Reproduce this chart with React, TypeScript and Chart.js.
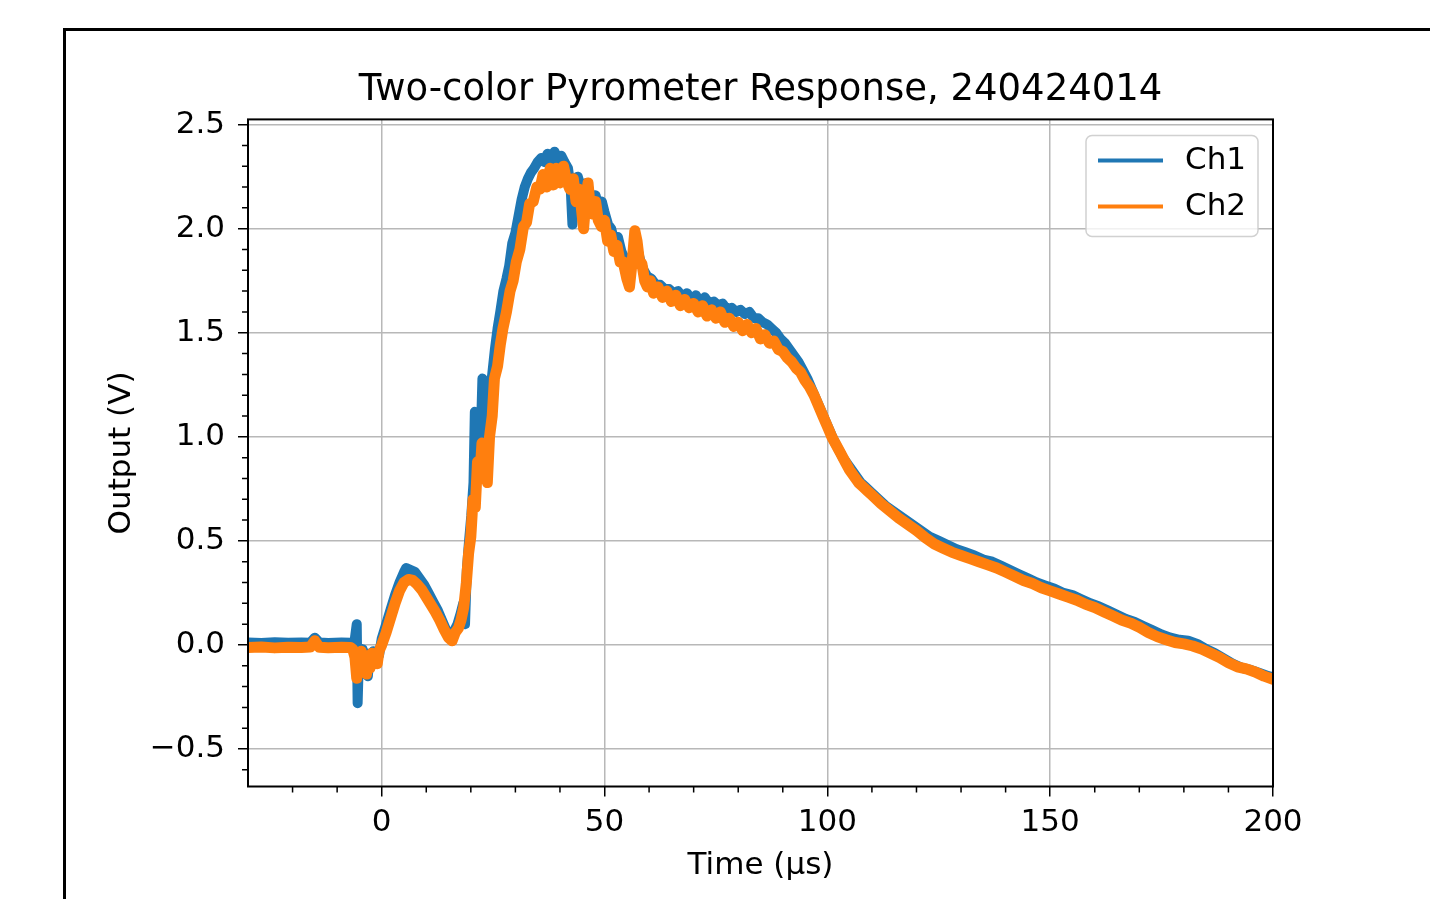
import React, { useEffect, useRef } from "react";
import { Chart, registerables } from "chart.js";

Chart.register(...registerables);

const TITLE = "Two-color Pyrometer Response, 240424014";
const X_LABEL = "Time (μs)";
const Y_LABEL = "Output (V)";
const SERIES_NAMES = ["Ch1", "Ch2"];
const SERIES_COLORS = ["#1f77b4", "#ff7f0e"];

const X_MIN = -30;
const X_MAX = 200;
const Y_MIN = -0.68;
const Y_MAX = 2.525;

const X_MAJOR = [0, 50, 100, 150, 200];
const X_MINOR = [-20, -10, 10, 20, 30, 40, 60, 70, 80, 90, 110, 120, 130, 140, 160, 170, 180, 190];
const Y_MAJOR = [-0.5, 0, 0.5, 1, 1.5, 2, 2.5];
const Y_MINOR = [-0.6, -0.4, -0.3, -0.2, -0.1, 0.1, 0.2, 0.3, 0.4, 0.6, 0.7, 0.8, 0.9, 1.1, 1.2, 1.3, 1.4, 1.6, 1.7, 1.8, 1.9, 2.1, 2.2, 2.3, 2.4];

// Ch1 (blue): [time µs, volts]
const CH1: [number, number][] = [
  [-30, 0.012], [-27, 0.01], [-24, 0.013], [-21, 0.011], [-18, 0.012], [-16, 0.011], [-15, 0.035], [-14, 0.012],
  [-12, 0.01], [-9, 0.012], [-7, 0.011], [-6.2, 0.0], [-5.6, 0.1], [-5.4, -0.28], [-5.1, -0.05], [-4.7, -0.14],
  [-4.3, -0.02], [-3.9, -0.1], [-3.5, -0.04], [-3.1, -0.15], [-2.7, -0.05], [-2.3, -0.09], [-1.9, -0.03], [-1.5, -0.07],
  [-1.1, -0.03], [-0.6, -0.05], [0, 0.03], [1, 0.1], [2, 0.17], [3, 0.24], [4, 0.3], [5, 0.35], [5.5, 0.37],
  [6.5, 0.36], [7.5, 0.35], [8.5, 0.32], [9.5, 0.29], [10.5, 0.25], [11.5, 0.21], [12.5, 0.17], [13.5, 0.12],
  [14.5, 0.07], [15.5, 0.03], [16.3, 0.07], [17, 0.1], [17.7, 0.15], [18.3, 0.2], [18.7, 0.1], [19.1, 0.36],
  [19.6, 0.5], [20.1, 0.62], [20.6, 0.78], [20.9, 1.12], [21.2, 0.8], [21.7, 0.95], [22.1, 0.9], [22.6, 1.28],
  [23, 1.0], [23.6, 1.12], [24.2, 1.2], [24.8, 1.3], [25.4, 1.42], [26, 1.52], [26.6, 1.6], [27.3, 1.7],
  [28, 1.76], [28.6, 1.82], [29.3, 1.93], [30, 1.98], [30.7, 2.06], [31.4, 2.14], [32.1, 2.2], [32.8, 2.24],
  [33.5, 2.27], [34.2, 2.29], [35, 2.32], [35.8, 2.34], [36.5, 2.32], [37.2, 2.36], [38, 2.33], [38.8, 2.37],
  [39.5, 2.33], [40.3, 2.35], [41, 2.32], [41.8, 2.29], [42.4, 2.2], [42.8, 2.02], [43.3, 2.24], [44, 2.25],
  [44.7, 2.2], [45.4, 2.14], [46, 2.22], [46.6, 2.18], [47.3, 2.12], [48, 2.16], [48.7, 2.1], [49.4, 2.13],
  [50, 2.08], [50.8, 2.02], [51.5, 2.0], [52.2, 1.94], [53, 1.96], [53.8, 1.89], [54.6, 1.85], [55.4, 1.8],
  [56.1, 1.84], [56.8, 1.95], [57.4, 1.9], [58.1, 1.84], [58.8, 1.8], [59.6, 1.77], [60.5, 1.76], [61.5, 1.73],
  [62.5, 1.73], [63.5, 1.71], [64.5, 1.71], [65.5, 1.69], [66.5, 1.7], [67.5, 1.67], [68.5, 1.69], [69.5, 1.66],
  [70.5, 1.68], [71.5, 1.65], [72.5, 1.67], [73.5, 1.64], [74.5, 1.65], [75.5, 1.63], [76.5, 1.64], [77.5, 1.61],
  [78.5, 1.62], [79.5, 1.6], [80.5, 1.61], [81.5, 1.59], [82.5, 1.6], [83.5, 1.57], [84.5, 1.57], [85.5, 1.55],
  [86.5, 1.54], [87.5, 1.52], [88.5, 1.5], [89.5, 1.47], [90.5, 1.45], [91.5, 1.42], [92.5, 1.39], [93.5, 1.36],
  [94.5, 1.32], [95.5, 1.28], [96.5, 1.23], [97.5, 1.18], [98.5, 1.13], [99.5, 1.08], [100.5, 1.03], [101.5, 0.98],
  [102.5, 0.94], [103.5, 0.9], [104.5, 0.87], [105.5, 0.84], [106.5, 0.81], [107.5, 0.78], [108.5, 0.76],
  [109.5, 0.74], [111, 0.71], [113, 0.67], [115, 0.64], [117, 0.61], [119, 0.58], [121, 0.55], [123, 0.52],
  [125, 0.5], [127, 0.48], [129, 0.46], [131, 0.445], [133, 0.43], [135, 0.41], [137, 0.4], [139, 0.38],
  [141, 0.36], [143, 0.34], [145, 0.32], [147, 0.3], [149, 0.285], [151, 0.27], [153, 0.25], [155, 0.24],
  [157, 0.22], [159, 0.2], [161, 0.185], [163, 0.165], [165, 0.145], [167, 0.125], [169, 0.11], [171, 0.09],
  [173, 0.07], [175, 0.05], [177, 0.035], [179, 0.025], [181, 0.02], [183, 0.005], [185, -0.02], [187, -0.04],
  [189, -0.065], [191, -0.09], [193, -0.11], [195, -0.12], [197, -0.135], [199, -0.15], [200, -0.155],
];

// Ch2 (orange): [time µs, volts]
const CH2: [number, number][] = [
  [-30, -0.012], [-27, -0.01], [-24, -0.014], [-21, -0.011], [-18, -0.012], [-16, -0.01], [-15, 0.02], [-14, -0.011],
  [-12, -0.013], [-9, -0.011], [-7, -0.012], [-6.5, -0.02], [-6, -0.06], [-5.6, -0.16], [-5.3, -0.04], [-5, -0.12],
  [-4.6, -0.03], [-4.2, -0.09], [-3.8, -0.05], [-3.4, -0.14], [-3, -0.06], [-2.6, -0.11], [-2.2, -0.04], [-1.8, -0.08],
  [-1.4, -0.05], [-1, -0.09], [-0.6, -0.03], [0, 0.0], [1, 0.06], [2, 0.13], [3, 0.2], [4, 0.26], [5, 0.3],
  [6, 0.315], [7, 0.31], [8, 0.29], [9, 0.265], [10, 0.23], [11, 0.195], [12, 0.16], [13, 0.12], [14, 0.075],
  [15, 0.035], [15.8, 0.02], [16.5, 0.06], [17.2, 0.08], [17.8, 0.12], [18.4, 0.18], [19, 0.3], [19.5, 0.44],
  [20, 0.52], [20.5, 0.7], [21, 0.66], [21.5, 0.88], [22, 0.8], [22.5, 0.97], [23, 0.86], [23.7, 0.78],
  [24.2, 1.0], [24.8, 1.1], [25.3, 1.28], [26, 1.34], [26.6, 1.44], [27.2, 1.52], [28, 1.6], [28.8, 1.7],
  [29.5, 1.75], [30.2, 1.84], [31, 1.9], [31.8, 2.01], [32.5, 2.03], [33.2, 2.12], [34, 2.13], [34.8, 2.2],
  [35.5, 2.19], [36.2, 2.26], [37, 2.2], [37.8, 2.29], [38.5, 2.21], [39.2, 2.29], [40, 2.22], [40.8, 2.3],
  [41.5, 2.23], [42.2, 2.19], [43, 2.24], [43.6, 2.13], [44.2, 2.19], [44.8, 2.1], [45.3, 2.0], [45.8, 2.13],
  [46.3, 2.22], [46.8, 2.1], [47.4, 2.07], [48, 2.13], [48.6, 2.04], [49.3, 2.01], [50, 2.04], [50.7, 1.94],
  [51.4, 1.97], [52.1, 1.89], [52.8, 1.92], [53.5, 1.84], [54.2, 1.84], [55, 1.76], [55.6, 1.72], [56.2, 1.84],
  [56.8, 1.99], [57.3, 1.94], [57.8, 1.85], [58.4, 1.83], [59, 1.75], [59.6, 1.72], [60.3, 1.75], [61, 1.69],
  [62, 1.72], [63, 1.67], [64, 1.7], [65, 1.65], [66, 1.68], [67, 1.63], [68, 1.66], [69, 1.62], [70, 1.64],
  [71, 1.6], [72, 1.63], [73, 1.58], [74, 1.61], [75, 1.57], [76, 1.6], [77, 1.55], [78, 1.57], [79, 1.53],
  [80, 1.55], [81, 1.51], [82, 1.54], [83, 1.5], [84, 1.52], [85, 1.47], [86, 1.49], [87, 1.45], [88, 1.46],
  [89, 1.42], [90, 1.41], [91, 1.38], [92, 1.36], [93, 1.33], [94, 1.31], [95, 1.27], [96, 1.24], [97, 1.2],
  [98, 1.15], [99, 1.1], [100, 1.05], [101, 1.0], [102, 0.96], [103, 0.92], [104, 0.88], [105, 0.84], [106, 0.81],
  [107, 0.78], [108, 0.76], [109, 0.74], [110, 0.72], [112, 0.68], [114, 0.645], [116, 0.61], [118, 0.58],
  [120, 0.55], [122, 0.515], [124, 0.485], [126, 0.465], [128, 0.445], [130, 0.43], [132, 0.415], [134, 0.4],
  [136, 0.385], [138, 0.37], [140, 0.35], [142, 0.33], [144, 0.31], [146, 0.295], [148, 0.275], [150, 0.26],
  [152, 0.245], [154, 0.23], [156, 0.215], [158, 0.195], [160, 0.18], [162, 0.16], [164, 0.14], [166, 0.12],
  [168, 0.105], [170, 0.085], [172, 0.06], [174, 0.04], [176, 0.025], [178, 0.012], [180, 0.005], [182, -0.005],
  [184, -0.02], [186, -0.04], [188, -0.06], [190, -0.085], [192, -0.105], [194, -0.115], [196, -0.13],
  [198, -0.15], [200, -0.165],
];

const FONT = "'DejaVu Sans', sans-serif";

const decorPlugin = {
  id: "mplDecor",
  afterDatasetsDraw(chart: any) {
    const { ctx, chartArea, scales } = chart;
    ctx.save();
    ctx.strokeStyle = "#000";
    ctx.lineWidth = 1.5;
    ctx.beginPath();
    X_MINOR.forEach((v) => {
      const px = scales.x.getPixelForValue(v);
      ctx.moveTo(px, chartArea.bottom);
      ctx.lineTo(px, chartArea.bottom + 6);
    });
    Y_MINOR.forEach((v) => {
      const py = scales.y.getPixelForValue(v);
      ctx.moveTo(chartArea.left, py);
      ctx.lineTo(chartArea.left - 6, py);
    });
    ctx.stroke();
    ctx.lineWidth = 2;
    ctx.strokeRect(chartArea.left, chartArea.top, chartArea.right - chartArea.left, chartArea.bottom - chartArea.top);
    ctx.restore();
  },
  afterDraw(chart: any) {
    const { ctx, chartArea } = chart;
    const boxW = 172;
    const boxH = 101;
    const x0 = chartArea.right - 15 - boxW;
    const y0 = chartArea.top + 16;
    ctx.save();
    ctx.beginPath();
    (ctx as any).roundRect(x0, y0, boxW, boxH, 6);
    ctx.fillStyle = "rgba(255,255,255,0.8)";
    ctx.fill();
    ctx.strokeStyle = "rgba(204,204,204,0.9)";
    ctx.lineWidth = 1.5;
    ctx.stroke();
    chart.data.datasets.forEach((ds: any, i: number) => {
      const cy = y0 + 25 + i * 46;
      ctx.strokeStyle = ds.borderColor;
      ctx.lineWidth = 4;
      ctx.beginPath();
      ctx.moveTo(x0 + 12, cy);
      ctx.lineTo(x0 + 77, cy);
      ctx.stroke();
      ctx.fillStyle = "#000";
      ctx.font = `31px ${FONT}`;
      ctx.textBaseline = "middle";
      ctx.textAlign = "left";
      ctx.fillText(ds.label, x0 + 99, cy + 1);
    });
    ctx.restore();
  },
};

export default function App() {
  const ref = useRef<HTMLCanvasElement | null>(null);

  useEffect(() => {
    if (!ref.current) return;
    const chart = new Chart(ref.current, {
      type: "line",
      data: {
        datasets: [
          {
            label: SERIES_NAMES[0],
            data: CH1.map(([x, y]) => ({ x, y })),
            borderColor: SERIES_COLORS[0],
            backgroundColor: SERIES_COLORS[0],
            borderWidth: 10,
            pointRadius: 0,
            tension: 0,
            borderJoinStyle: "round",
            borderCapStyle: "round",
            order: 2,
          },
          {
            label: SERIES_NAMES[1],
            data: CH2.map(([x, y]) => ({ x, y })),
            borderColor: SERIES_COLORS[1],
            backgroundColor: SERIES_COLORS[1],
            borderWidth: 11,
            pointRadius: 0,
            tension: 0,
            borderJoinStyle: "round",
            borderCapStyle: "round",
            order: 1,
          },
        ],
      },
      options: {
        animation: false,
        responsive: false,
        devicePixelRatio: 1,
        layout: { padding: { left: 100, right: 157, top: 0, bottom: 0 } },
        plugins: {
          legend: { display: false },
          tooltip: { enabled: false },
          title: {
            display: true,
            text: TITLE,
            fullSize: false,
            color: "#000",
            font: { family: FONT, size: 37, weight: "normal" as any, lineHeight: 1.2 },
            padding: { top: 68, bottom: 7 },
          },
        },
        scales: {
          x: {
            type: "linear",
            min: X_MIN,
            max: X_MAX,
            afterBuildTicks: (scale: any) => {
              scale.ticks = X_MAJOR.map((value) => ({ value }));
            },
            afterFit: (scale: any) => {
              scale.height = 112.5;
            },
            ticks: {
              color: "#000",
              font: { family: FONT, size: 31 },
              padding: 8,
              maxRotation: 0,
              autoSkip: false,
              callback: (v: any) => String(Math.round(Number(v))),
            },
            grid: {
              color: "#b8b8b8",
              lineWidth: 1.5,
              tickColor: "#000",
              tickLength: 10,
              tickWidth: 1.5,
            },
            border: { display: false },
            title: {
              display: true,
              text: X_LABEL,
              color: "#000",
              font: { family: FONT, size: 31, lineHeight: 1.2 },
              padding: { top: 0, bottom: 14 },
            },
          },
          y: {
            type: "linear",
            min: Y_MIN,
            max: Y_MAX,
            afterBuildTicks: (scale: any) => {
              scale.ticks = Y_MAJOR.map((value) => ({ value }));
            },
            afterFit: (scale: any) => {
              scale.width = 148;
            },
            ticks: {
              color: "#000",
              font: { family: FONT, size: 31 },
              padding: 13,
              autoSkip: false,
              callback: (v: any) => {
                const n = Number(v);
                return n < 0 ? "\u2212" + Math.abs(n).toFixed(1) : n.toFixed(1);
              },
            },
            grid: {
              color: "#b8b8b8",
              lineWidth: 1.5,
              tickColor: "#000",
              tickLength: 10,
              tickWidth: 1.5,
            },
            border: { display: false },
            title: {
              display: true,
              text: Y_LABEL,
              color: "#000",
              font: { family: FONT, size: 31, lineHeight: 1.2 },
              padding: { top: 3, bottom: 0 },
            },
          },
        },
      },
      plugins: [decorPlugin],
    });
    return () => chart.destroy();
  }, []);

  return (
    <div
      style={{
        position: "fixed",
        left: 0,
        top: 0,
        width: 1430,
        height: 899,
        overflow: "hidden",
        background: "#fff",
      }}
    >
      <div
        style={{
          position: "absolute",
          left: 63,
          top: 28,
          width: 1500,
          height: 1000,
          border: "3px solid #000",
          boxSizing: "border-box",
        }}
      />
      <canvas
        ref={ref}
        width={1430}
        height={899}
        style={{ position: "absolute", left: 0, top: 0, width: 1430, height: 899 }}
      />
    </div>
  );
}
